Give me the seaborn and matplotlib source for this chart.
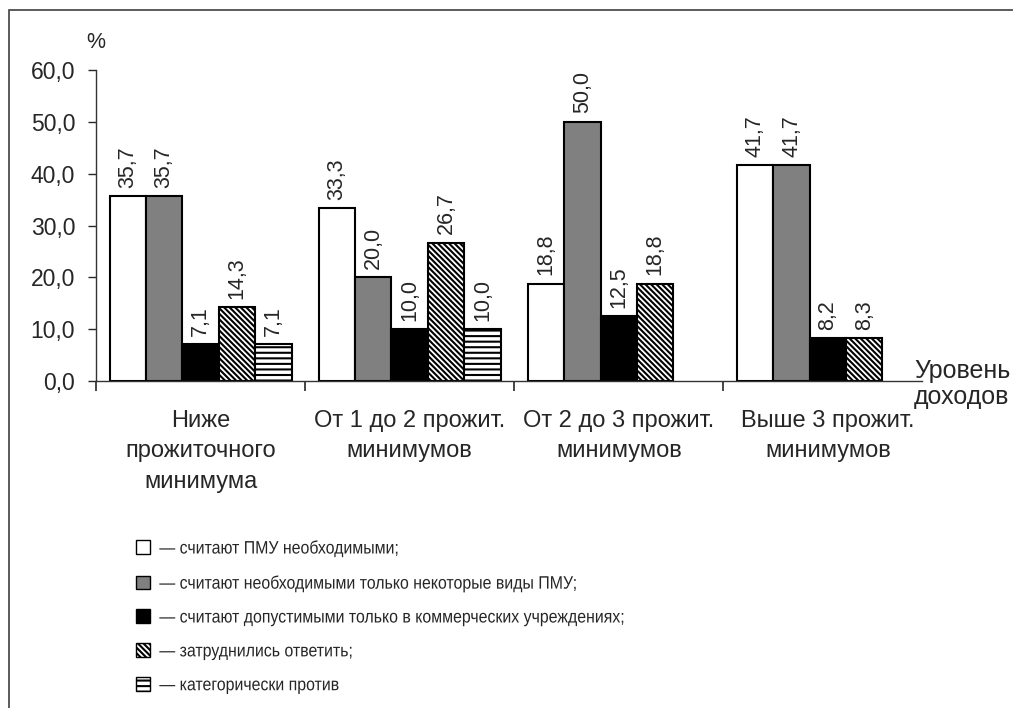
import numpy as np
import pandas as pd
import matplotlib
matplotlib.use("Agg")
import matplotlib.pyplot as plt
from matplotlib.patches import Patch, Rectangle
from matplotlib import patheffects
from matplotlib.transforms import Affine2D
import seaborn as sns

# Income groups (x categories)
categories = [
    "Ниже\nпрожиточного\nминимума",
    "От 1 до 2 прожит.\nминимумов",
    "От 2 до 3 прожит.\nминимумов",
    "Выше 3 прожит.\nминимумов",
]

# Attitude groups (series)
series_names = [
    "— считают ПМУ необходимыми;",
    "— считают необходимыми только некоторые виды ПМУ;",
    "— считают допустимыми только в коммерческих учреждениях;",
    "— затруднились ответить;",
    "— категорически против",
]

# Shares of respondents, %
need_all = [35.7, 33.3, 18.8, 41.7]
need_some = [35.7, 20.0, 50.0, 41.7]
commercial_only = [7.1, 10.0, 12.5, 8.2]
undecided = [14.3, 26.7, 18.8, 8.3]
against = [7.1, 10.0, np.nan, np.nan]

y_ticks = [0, 10, 20, 30, 40, 50, 60]

values = [need_all, need_some, commercial_only, undecided, against]
rows = []
for name, vals in zip(series_names, values):
    for cat, v in zip(categories, vals):
        rows.append({"group": cat, "series": name, "value": v})
df = pd.DataFrame(rows).dropna()


class Condensed(patheffects.AbstractPathEffect):
    """Draw text glyphs squeezed horizontally around their anchor."""

    def __init__(self, sx):
        super().__init__()
        self.sx = sx

    def draw_path(self, renderer, gc, tpath, affine, rgbFace=None):
        renderer.draw_path(gc, tpath, Affine2D().scale(self.sx, 1) + affine, rgbFace)


sns.set_style("white")
font = ["Liberation Sans", "DejaVu Sans"]
plt.rcParams["font.family"] = font
plt.rcParams["hatch.linewidth"] = 1.5
plt.rcParams["hatch.color"] = "black"

fig = plt.figure(figsize=(10.13, 7.08), dpi=100)
ax = fig.add_axes([96 / 1013, 1 - 381 / 708, (922 - 96) / 1013, (381 - 70) / 708])

sns.barplot(
    data=df, x="group", y="value", hue="series",
    order=categories, hue_order=series_names,
    width=0.87, gap=0, dodge=True, legend=False, ax=ax,
    edgecolor="black", linewidth=1.5,
)

styles = [
    dict(facecolor="white", hatch=None),
    dict(facecolor="#808080", hatch=None),
    dict(facecolor="black", hatch=None),
    dict(facecolor="white", hatch="\\\\\\\\\\\\"),
    dict(facecolor="white", hatch="---"),
]
for cont, st in zip(ax.containers, styles):
    for bar in cont:
        bar.set_facecolor(st["facecolor"])
        bar.set_edgecolor("black")
        bar.set_linewidth(1.5)
        if st["hatch"]:
            bar.set_hatch(st["hatch"])
    ax.bar_label(
        cont,
        labels=[f"{b.get_height():.1f}".replace(".", ",") for b in cont],
        rotation=90, padding=6, fontsize=15.5,
    )

ax.set_ylim(0, 60)
ax.set_xlim(-0.5, 3.45)
ax.set_yticks(y_ticks)
ax.set_yticklabels([f"{t:.1f}".replace(".", ",") for t in y_ticks], fontsize=16.5)
ax.tick_params(axis="y", direction="out", length=6, width=1, left=True, pad=9)

# category boundaries as ticks, names centred below each group
ax.set_xticks([-0.5, 0.5, 1.5, 2.5])
ax.set_xticklabels([])
ax.tick_params(axis="x", direction="out", length=7, width=1.2, bottom=True)
for i, cat in enumerate(categories):
    ax.text(i, -0.092, cat, transform=ax.get_xaxis_transform(),
            ha="center", va="top", fontsize=17, linespacing=1.5)

ax.set_xlabel("")
ax.set_ylabel("")
for side in ["top", "right"]:
    ax.spines[side].set_visible(False)
for side in ["left", "bottom"]:
    ax.spines[side].set_color("#333333")
    ax.spines[side].set_linewidth(1.0)

fig.text(86 / 1013, 1 - 42 / 708, "%", fontsize=15.5, ha="left", va="center")
fig.text(914 / 1013, 1 - 384 / 708, "Уровень\nдоходов", fontsize=18,
         ha="left", va="center", linespacing=1.15)

handles = [
    Patch(facecolor=st["facecolor"], edgecolor="black", linewidth=1.0,
          hatch=st["hatch"])
    for st in styles
]
leg = fig.legend(
    handles, series_names, loc="upper left",
    bbox_to_anchor=(129 / 1013, 1 - 532 / 708),
    frameon=False, fontsize=13, handlelength=0.78, handleheight=0.78,
    handletextpad=0.5, labelspacing=0.93, borderaxespad=0,
)
for t in leg.get_texts():
    t.set_path_effects([Condensed(0.88)])

# outer frame of the figure
frame = Rectangle((9 / 1013, -0.1), 1.2, 1 - 10 / 708 + 0.1,
                  transform=fig.transFigure, fill=False,
                  edgecolor="#404040", linewidth=1.2, clip_on=False)
fig.add_artist(frame)

fig.savefig("out.png", dpi=100)
